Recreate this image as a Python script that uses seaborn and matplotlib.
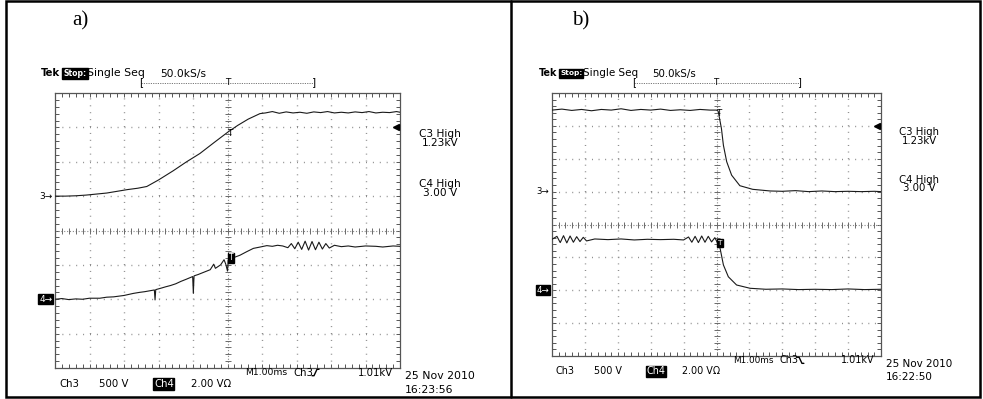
import numpy as np
import pandas as pd
import matplotlib
matplotlib.use("Agg")
import matplotlib.pyplot as plt
import seaborn as sns
from matplotlib.patches import Rectangle
from matplotlib.lines import Line2D

sns.set_style("white")
plt.rcParams['font.family'] = ['DejaVu Sans']
plt.rcParams['text.color'] = 'black'

# ---------------- data (in screen divisions: x 0..10, y 0..8) ----------------
a_ch3_x = [0, 0.3, 0.6, 0.9, 1.2, 1.5, 1.8, 2.1, 2.4, 2.66, 3.0, 3.43, 3.8, 4.2, 4.6, 5.02,
           5.3, 5.6, 5.94, 6.1, 6.3, 6.5, 6.7, 6.9, 7.1, 7.3, 7.5, 7.7, 7.9, 8.1, 8.3, 8.5,
           8.7, 8.9, 9.1, 9.3, 9.5, 9.7, 9.9, 10]
a_ch3_y = [5.00, 5.00, 5.01, 5.03, 5.06, 5.09, 5.14, 5.19, 5.23, 5.28, 5.47, 5.74, 5.99, 6.24, 6.55, 6.87,
           7.06, 7.24, 7.40, 7.42, 7.46, 7.41, 7.45, 7.42, 7.44, 7.41, 7.45, 7.43, 7.46, 7.42, 7.44, 7.42,
           7.45, 7.43, 7.46, 7.42, 7.44, 7.43, 7.46, 7.44]

a_ch4_x = [0, 0.2, 0.4, 0.6, 0.8, 1.0, 1.3, 1.5, 1.7, 2.0, 2.27, 2.45, 2.6, 2.88, 2.9, 2.92, 3.1, 3.2,
           3.35, 3.5, 3.65, 3.8, 3.99, 4.01, 4.03, 4.15, 4.3, 4.5, 4.6, 4.65, 4.8, 4.9, 4.95, 5.0, 5.02,
           5.2, 5.36, 5.55, 5.75, 5.95, 6.14, 6.3, 6.45, 6.6, 6.75, 6.85, 6.95, 7.05, 7.15, 7.25, 7.35,
           7.45, 7.55, 7.65, 7.75, 7.85, 7.95, 8.1, 8.3, 8.5, 8.7, 9.0, 9.3, 9.5, 9.8, 10]
a_ch4_y = [2.00, 2.02, 1.99, 2.01, 2.00, 2.03, 2.03, 2.06, 2.07, 2.11, 2.17, 2.20, 2.22, 2.27, 1.98, 2.28, 2.33, 2.36,
           2.40, 2.45, 2.52, 2.58, 2.66, 2.17, 2.68, 2.72, 2.78, 2.86, 3.02, 2.90, 3.00, 3.15, 3.02, 2.82, 3.14,
           3.22, 3.28, 3.38, 3.48, 3.52, 3.56, 3.54, 3.57, 3.55, 3.50, 3.62, 3.47, 3.66, 3.45, 3.69, 3.43,
           3.68, 3.44, 3.66, 3.46, 3.62, 3.49, 3.57, 3.53, 3.55, 3.52, 3.55, 3.54, 3.52, 3.55, 3.54]

b_ch3_x = [0, 0.3, 0.6, 0.9, 1.2, 1.5, 1.8, 2.1, 2.4, 2.7, 3.0, 3.3, 3.6, 3.9, 4.2, 4.5, 4.8, 5.0,
           5.05, 5.15, 5.21, 5.31, 5.46, 5.71, 6.1, 6.63, 7.0, 7.4, 7.8, 8.2, 8.6, 9.0, 9.4, 9.8, 10]
b_ch3_y = [7.48, 7.51, 7.47, 7.50, 7.46, 7.50, 7.48, 7.52, 7.47, 7.50, 7.48, 7.51, 7.47, 7.49, 7.47, 7.50, 7.48, 7.48,
           7.45, 6.92, 6.41, 5.91, 5.50, 5.18, 5.07, 5.02, 5.01, 5.03, 5.00, 5.02, 5.00, 5.01, 5.00, 5.01, 5.00]

b_ch4_x = [0, 0.15, 0.25, 0.35, 0.45, 0.55, 0.65, 0.75, 0.85, 0.95, 1.05, 1.3, 1.7, 2.1, 2.5, 2.9, 3.3,
           3.7, 4.0, 4.15, 4.25, 4.35, 4.45, 4.55, 4.65, 4.75, 4.85, 4.95, 5.0, 5.11, 5.21, 5.36, 5.61,
           6.02, 6.5, 7.0, 7.5, 8.0, 8.5, 9.0, 9.5, 10]
b_ch4_y = [3.55, 3.64, 3.45, 3.66, 3.44, 3.65, 3.46, 3.63, 3.48, 3.61, 3.50, 3.56, 3.54, 3.56, 3.53, 3.55, 3.54,
           3.55, 3.53, 3.62, 3.46, 3.64, 3.45, 3.65, 3.46, 3.64, 3.47, 3.60, 3.50, 3.27, 2.77, 2.41, 2.16,
           2.06, 2.03, 2.04, 2.02, 2.03, 2.02, 2.04, 2.02, 2.03]

ground_ch3 = 5.0
ground_ch4 = 2.0
trig_level = 7.0
trig_time = 5.0

labels_top = ["Tek", "Stop:", "Single Seq", "50.0kS/s"]
labels_right = ["C3 High", "1.23kV", "C4 High", "3.00 V"]
labels_bottom = ["Ch3", "500 V", "Ch4", "2.00 V\u03a9"]
timebase = "M1.00ms"
trig_src = "Ch3"
trig_slope = ["rise", "fall"]
trig_val = "1.01kV"
dates = ["25 Nov 2010", "25 Nov 2010"]
times = ["16:23:56", "16:22:50"]
panel_tags = ["a)", "b)"]

W, H = 983, 399
fig = plt.figure(figsize=(W / 100, H / 100), dpi=100)

def fx(x):
    return x / W

def fy(y):
    return 1 - y / H

def ftext(x, y, s, size, **kw):
    fig.text(fx(x), fy(y), s, fontsize=size, va='center', **kw)

def fline(xs, ys, **kw):
    fig.add_artist(Line2D([fx(v) for v in xs], [fy(v) for v in ys], transform=fig.transFigure, **kw))

# outer frame and divider
fig.add_artist(Rectangle((fx(6), fy(397)), fx(980) - fx(6), fy(1) - fy(397),
                         transform=fig.transFigure, fill=False, ec='black', lw=1.8))
fline([511, 511], [397, 1], color='black', lw=1.8)

def scope(px0, py0, px1, py1, ch3x, ch3y, ch4x, ch4y, scale):
    ax = fig.add_axes([fx(px0), fy(py1), fx(px1) - fx(px0), fy(py0) - fy(py1)])
    ax.set_xlim(0, 10)
    ax.set_ylim(0, 8)
    divpx = (px1 - px0) / 10.0
    step_pt = divpx * 0.2 * 0.72
    for i in range(1, 10):
        if i == 5:
            continue
        ax.axvline(i, color='#8a8a8a', lw=1.0, ls=(0, (0.7, step_pt - 0.7)), zorder=1)
    for j in range(1, 8):
        if j == 4:
            continue
        ax.axhline(j, color='#8a8a8a', lw=1.0, ls=(0, (0.7, step_pt - 0.7)), zorder=1)
    ax.axvline(5, color='#8a8a8a', lw=0.8, ls=(0, (1.0, 1.6)), zorder=1)
    ax.axhline(4, color='#8a8a8a', lw=0.8, ls=(0, (1.0, 1.6)), zorder=1)
    tk = np.arange(0.2, 10, 0.2)
    ax.plot(tk, np.full_like(tk, 4.0), ls='none', marker='|', ms=4, mew=0.7, color='#6a6a6a', zorder=1)
    tk2 = np.arange(0.2, 8, 0.2)
    ax.plot(np.full_like(tk2, 5.0), tk2, ls='none', marker='_', ms=4, mew=0.7, color='#6a6a6a', zorder=1)
    ax.set_xticks(np.arange(0, 11, 1))
    ax.set_yticks(np.arange(0, 9, 1))
    ax.set_xticks(np.arange(0, 10.01, 0.2), minor=True)
    ax.set_yticks(np.arange(0, 8.01, 0.2), minor=True)
    ax.tick_params(which='both', direction='in', top=True, right=True, bottom=True, left=True,
                   length=3, width=0.7, color='#555555', labelbottom=False, labelleft=False)
    for sp in ax.spines.values():
        sp.set_color('#555555')
        sp.set_linewidth(0.9)
    ax.grid(False)
    ax.set_facecolor('white')

    d3 = pd.DataFrame({'t': ch3x, 'v': ch3y})
    d4 = pd.DataFrame({'t': ch4x, 'v': ch4y})
    sns.lineplot(data=d3, x='t', y='v', ax=ax, color='#1a1a1a', lw=0.8, sort=False,
                 estimator=None, zorder=3)
    sns.lineplot(data=d4, x='t', y='v', ax=ax, color='#1a1a1a', lw=0.8, sort=False,
                 estimator=None, zorder=3)
    ax.set_xlabel('')
    ax.set_ylabel('')

    # trigger marks
    ax.plot([9.88], [trig_level], marker='<', ms=4, color='black', zorder=4, clip_on=False)
    ax.text(trig_time + 0.08, np.interp(trig_time + 0.05, ch3x, ch3y) - 0.08, 'T', fontsize=6.5 * scale,
            ha='center', va='center', color='black', zorder=5)
    ax.text(trig_time + 0.1, np.interp(trig_time + 0.05, ch4x, ch4y) + 0.05, 'T', fontsize=5.5 * scale,
            ha='center', va='center', color='white', zorder=5,
            bbox=dict(facecolor='black', edgecolor='black', pad=0.6))

    # ground markers
    ax.text(-0.08, ground_ch3, '3\u2192', fontsize=6.5 * scale, ha='right', va='center',
            transform=ax.transData, clip_on=False)
    ax.text(-0.08, ground_ch4, '4\u2192', fontsize=6.5 * scale, ha='right', va='center', color='white',
            transform=ax.transData, clip_on=False,
            bbox=dict(facecolor='black', edgecolor='black', pad=0.5))

    # record length bracket
    yb = py0 - 10.5
    bx0 = px0 + divpx * 2.5
    bx1 = px0 + divpx * 7.5
    bxc = px0 + divpx * 5.0
    fline([bx0, bx1], [yb, yb], color='#777777', lw=0.7, ls=(0, (1.2, 1.2)))
    ftext(bx0, yb, '[', 7.5 * scale, ha='center')
    ftext(bx1, yb, ']', 7.5 * scale, ha='center')
    ftext(bxc, yb, 'T', 6.5 * scale, ha='center')
    return ax, divpx

fs = 7.3

ax_a, dpa = scope(55, 93, 400, 368, a_ch3_x, a_ch3_y, a_ch4_x, a_ch4_y, 1.0)
ax_b, dpb = scope(552, 93, 881, 356, b_ch3_x, b_ch3_y, b_ch4_x, b_ch4_y, 0.954)

for k, (x0, x1, ybot, sc, tagx) in enumerate([(55, 400, 368, 1.0, 72), (552, 881, 356, 0.954, 572)]):
    f = fs * sc
    ftext(tagx, 21, panel_tags[k], 15, ha='left', family='Liberation Serif')
    # top line
    ftext(x0 - 14 * sc, 73.5, labels_top[0], f, ha='left', weight='bold')
    ftext(x0 + 8.5 * sc, 73.5, labels_top[1], 5.6 * sc, ha='left', color='white', weight='bold',
          bbox=dict(facecolor='black', edgecolor='black', pad=0.8))
    ftext(x0 + 32 * sc, 73.5, labels_top[2], 7.8 * sc, ha='left')
    ftext(x0 + 105 * sc, 73.5, labels_top[3], 7.7 * sc, ha='left')
    # right side labels
    rx = x1 + 40 * sc
    fr = 7.6 * sc
    ftext(rx, 93 + 41 * sc, labels_right[0], fr, ha='center')
    ftext(rx, 93 + 50 * sc, labels_right[1], fr, ha='center')
    ftext(rx, 93 + 91 * sc, labels_right[2], fr, ha='center')
    ftext(rx, 93 + 100 * sc, labels_right[3], fr, ha='center')
    # bottom labels
    yb1 = ybot + 16 * sc
    ftext(x0 + 4 * sc, yb1, labels_bottom[0], f, ha='left')
    ftext(x0 + 44 * sc, yb1, labels_bottom[1], f, ha='left')
    ftext(x0 + 99 * sc, yb1, labels_bottom[2], f, ha='left', color='white',
          bbox=dict(facecolor='black', edgecolor='black', pad=0.4))
    ftext(x0 + 136 * sc, yb1, labels_bottom[3], f, ha='left')
    yt = ybot + 4.5 * sc
    ftext(x0 + 190 * sc, yt, timebase, 6.7 * sc, ha='left')
    ftext(x0 + 238 * sc, yt, trig_src, f, ha='left')
    # slope symbol
    sx = x0 + 257 * sc
    h = 3.2 * sc
    if trig_slope[k] == "rise":
        fline([sx, sx + 2 * sc, sx + 5 * sc, sx + 7 * sc], [yt + h, yt + h, yt - h, yt - h], color='black', lw=1.0)
    else:
        fline([sx, sx + 2 * sc, sx + 5 * sc, sx + 7 * sc], [yt - h, yt - h, yt + h, yt + h], color='black', lw=1.0)
    ftext(x1 - 7 * sc, yt, trig_val, f, ha='right')
    ftext(x1 + 5 * sc, ybot + 8 * sc, dates[k], 7.8 * sc, ha='left')
    ftext(x1 + 5 * sc, ybot + 22 * sc, times[k], 7.8 * sc, ha='left')

fig.savefig('out.png', dpi=100)
